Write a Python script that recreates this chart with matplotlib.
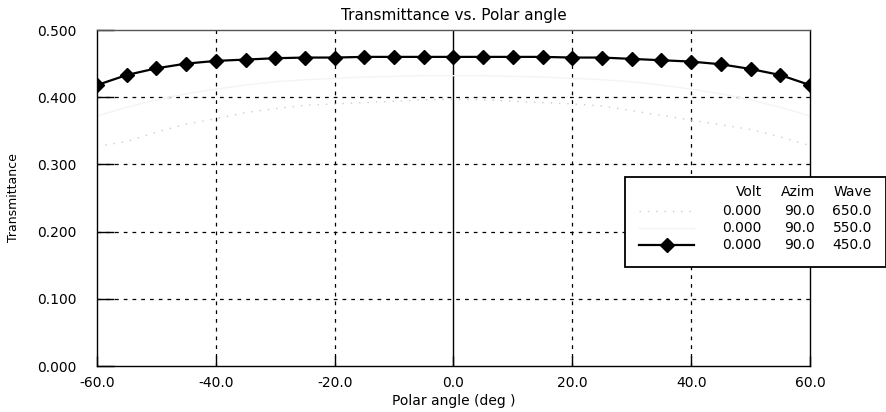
import matplotlib.pyplot as plt
from matplotlib.patches import Rectangle
from matplotlib.lines import Line2D

plt.rcParams['font.family'] = ['DejaVu Sans']

# data
angles = list(range(-60, 65, 5))
t_450 = [0.418, 0.433, 0.443, 0.450, 0.454, 0.456, 0.458, 0.459, 0.459, 0.460, 0.460, 0.460, 0.460,
         0.460, 0.460, 0.460, 0.459, 0.459, 0.457, 0.455, 0.453, 0.449, 0.442, 0.433, 0.418]
t_650 = [0.327, 0.334, 0.348, 0.360, 0.368, 0.377, 0.383, 0.388, 0.390, 0.392, 0.394, 0.396, 0.397,
         0.396, 0.394, 0.392, 0.390, 0.387, 0.380, 0.373, 0.366, 0.359, 0.352, 0.341, 0.328]
t_550 = [0.372, 0.385, 0.396, 0.405, 0.412, 0.418, 0.423, 0.426, 0.428, 0.430, 0.431, 0.432, 0.432,
         0.432, 0.431, 0.430, 0.428, 0.426, 0.423, 0.418, 0.412, 0.405, 0.396, 0.385, 0.372]
volts = ['0.000', '0.000', '0.000']
azims = ['90.0', '90.0', '90.0']
waves = ['650.0', '550.0', '450.0']

xticks = [-60, -40, -20, 0, 20, 40, 60]
yticks = [0.0, 0.1, 0.2, 0.3, 0.4, 0.5]

W, H = 887, 412
fig = plt.figure(figsize=(W / 100, H / 100), dpi=100)
ax = fig.add_axes([97 / W, 1 - 366 / H, (810 - 97) / W, (366 - 30) / H])

# faint series (almost washed out in the scan)
ax.plot(angles, t_650, color='#cccccc', lw=1, ls=(0, (1, 5)))
ax.plot(angles, t_550, color='#f4f4f4', lw=1)
ax.plot(angles, t_450, color='black', lw=1.6, marker='D', markersize=7.5)

ax.set_xlim(-60, 60)
ax.set_ylim(0, 0.5)
ax.set_xticks(xticks)
ax.set_yticks(yticks)
ax.set_xticklabels(['%.1f' % v for v in xticks], fontsize=10)
ax.set_yticklabels(['%.3f' % v for v in yticks], fontsize=10)
ax.tick_params(axis='x', direction='in', length=7, width=1, pad=7)
ax.tick_params(axis='y', direction='in', length=12, width=1, pad=15)

# dashed grid, solid line at 0 deg
for v in [-40, -20, 20, 40]:
    ax.axvline(v, color='black', lw=0.9, ls=(0, (3, 4)), zorder=1)
for v in [0.1, 0.2, 0.3, 0.4]:
    ax.axhline(v, color='black', lw=0.9, ls=(0, (3, 4)), zorder=1)
ax.axvline(0, color='black', lw=1, zorder=1)

for s in ax.spines.values():
    s.set_linewidth(1)
ax.spines['top'].set_color('#555555')

ax.set_title('Transmittance vs. Polar angle', fontsize=11, pad=7)
ax.set_xlabel('Polar angle (deg )', fontsize=10, labelpad=3)
ax.set_ylabel('Transmittance', fontsize=9, labelpad=12)

# legend box, drawn in pixel coordinates of the figure
def fx(px):
    return px / W

def fy(py):
    return 1 - py / H

fig.patches.append(Rectangle((fx(625), fy(267)), fx(886) - fx(625), (267 - 177) / H,
                             transform=fig.transFigure, facecolor='white',
                             edgecolor='black', lw=1.3, zorder=5))
fs = 10
hy = 192
fig.text(fx(762), fy(hy), 'Volt', ha='right', va='center', fontsize=fs, zorder=6)
fig.text(fx(815), fy(hy), 'Azim', ha='right', va='center', fontsize=fs, zorder=6)
fig.text(fx(872), fy(hy), 'Wave', ha='right', va='center', fontsize=fs, zorder=6)
rows = [211, 228, 245]
styles = [dict(color='#cccccc', lw=1, ls=(0, (1, 5))),
          dict(color='#f4f4f4', lw=1),
          dict(color='black', lw=1.6, marker='D', markersize=7.5, markevery=[1])]
for i, ry in enumerate(rows):
    fig.text(fx(762), fy(ry), volts[i], ha='right', va='center', fontsize=fs, zorder=6)
    fig.text(fx(815), fy(ry), azims[i], ha='right', va='center', fontsize=fs, zorder=6)
    fig.text(fx(872), fy(ry), waves[i], ha='right', va='center', fontsize=fs, zorder=6)
    fig.lines.append(Line2D([fx(639), fx(667), fx(694)], [fy(ry)] * 3,
                            transform=fig.transFigure, zorder=6, **styles[i]))

fig.savefig('out.png', dpi=100)
